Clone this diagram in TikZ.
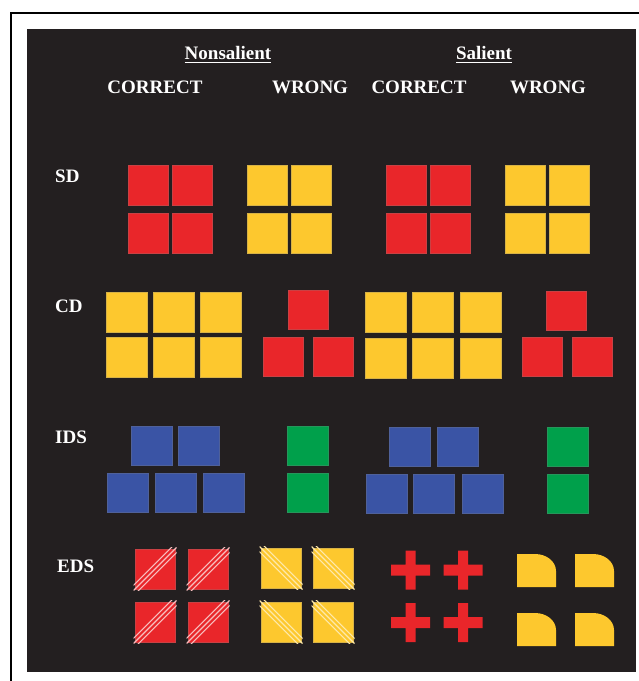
\documentclass[tikz,border=0pt]{standalone}
\usepackage{fontspec}
\setmainfont{Liberation Serif}
\definecolor{panel}{RGB}{35,31,32}
\definecolor{tred}{RGB}{233,38,42}
\definecolor{tyel}{RGB}{253,200,46}
\definecolor{tblue}{RGB}{58,84,165}
\definecolor{tgreen}{RGB}{0,160,75}
\begin{document}
\begin{tikzpicture}[x=1bp,y=-1bp,
  heading/.style={text=white, inner sep=0pt, anchor=base,
    font=\bfseries\fontsize{19bp}{19bp}\selectfont},
  rowlabel/.style={heading, anchor=base west},
  redtile/.style={fill=tred, draw=tred!70!gray, line width=0.5bp},
  yeltile/.style={fill=tyel, draw=tyel!70!gray, line width=0.5bp},
  bluetile/.style={fill=tblue, draw=tblue!70!gray, line width=0.5bp},
  greentile/.style={fill=tgreen, draw=tgreen!70!gray, line width=0.5bp},
  redhatch/.style={draw=white!70!tred, line width=1.1bp},
  yelhatch/.style={draw=white!60!tyel, line width=1.1bp},
  rule/.style={white, line width=1.4bp}]
\useasboundingbox (0,0) rectangle (639,681);
\fill[white] (0,0) rectangle (639,681);
% frame and dark panel
\draw[line width=2.4bp] (11,681) -- (11,13) -- (639,13);
\fill[panel] (27,29) rectangle (636,672);

% column headings
\node[heading] (nonsal) at (228,60) {Nonsalient};
\node[heading] (sal) at (484,60) {Salient};
\draw[rule] ([yshift=-2.3bp]nonsal.base west) -- ([yshift=-2.3bp]nonsal.base east);
\draw[rule] ([yshift=-2.3bp]sal.base west) -- ([yshift=-2.3bp]sal.base east);
\node[heading] (corr1) at (155,94) {CORRECT};
\node[heading] (wrong1) at (310,94) {WRONG};
\node[heading] (corr2) at (419,94) {CORRECT};
\node[heading] (wrong2) at (548,94) {WRONG};

% row labels
\node[rowlabel] (sd) at (55,182) {SD};
\node[rowlabel] (cd) at (55,312) {CD};
\node[rowlabel] (ids) at (55,443) {IDS};
\node[rowlabel] (eds) at (57,572) {EDS};

% SD row
\foreach \x/\y in {128/165,172/165,128/213,172/213,386/165,430/165,386/213,430/213}
  \path[redtile] (\x,\y) rectangle ++(40,40);
\foreach \x/\y in {247/165,291/165,247/213,291/213,505/165,549/165,505/213,549/213}
  \path[yeltile] (\x,\y) rectangle ++(40,40);

% CD row
\foreach \x/\y in {106/292,153/292,200/292,106/337,153/337,200/337,
                   365/292,412/292,460/292,365/338,412/338,460/338}
  \path[yeltile] (\x,\y) rectangle ++(41,40);
\foreach \x/\y in {288/290,263/337,313/337,546/291,522/337,572/337}
  \path[redtile] (\x,\y) rectangle ++(40,39);

% IDS row
\foreach \x/\y in {131/426,178/426,107/473,155/473,203/473,
                   389/427,437/427,366/474,413/474,462/474}
  \path[bluetile] (\x,\y) rectangle ++(41,39);
\foreach \x/\y in {287/426,287/473,547/427,547/474}
  \path[greentile] (\x,\y) rectangle ++(41,39);

% EDS row: striped squares
\foreach \x/\y in {135/549,188/549,135/602,188/602}{
  \path[redtile] (\x,\y) rectangle ++(40,40);
  \begin{scope}
    \clip (\x-1.5,\y-1.5) rectangle ++(43,43);
    \foreach \s in {-2.6,0,2.6}
      \draw[redhatch] (\x-5+\s,\y+45+\s) -- (\x+45+\s,\y-5+\s);
  \end{scope}
}
\foreach \x/\y in {261/548,313/548,261/602,313/602}{
  \path[yeltile] (\x,\y) rectangle ++(40,40);
  \begin{scope}
    \clip (\x-1.5,\y-1.5) rectangle ++(43,43);
    \foreach \s in {-2.6,0,2.6}
      \draw[yelhatch] (\x-5+\s,\y-5-\s) -- (\x+45+\s,\y+45-\s);
  \end{scope}
}

% EDS row: crosses
\foreach \cx/\cy in {410.5/570,463/570,410.5/622.5,463/622.5}
  \fill[tred] (\cx-19.5,\cy-5.5) rectangle (\cx+19.5,\cy+5.5)
              (\cx-5,\cy-19.5) rectangle (\cx+5,\cy+19.5);

% EDS row: tiles with one rounded corner
\foreach \x/\y in {517/554,575/554,517/613,575/613}
  \fill[tyel] (\x,\y+33) -- (\x,\y) -- (\x+18,\y)
    .. controls (\x+29.6,\y) and (\x+39,\y+7.6) .. (\x+39,\y+17)
    -- (\x+39,\y+33) -- cycle;
\end{tikzpicture}
\end{document}
